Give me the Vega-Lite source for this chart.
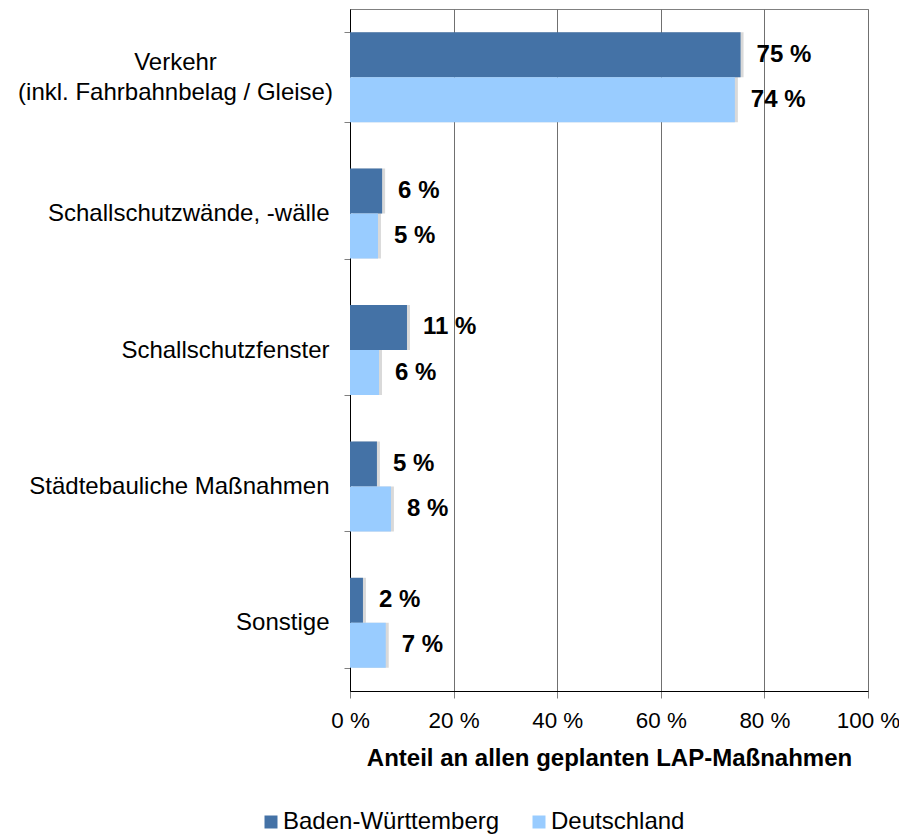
{
  "$schema": "https://vega.github.io/schema/vega-lite/v6.json",
  "width": 518,
  "height": 682,
  "autosize": "none",
  "padding": {"left": 350, "top": 9, "right": 31, "bottom": 144},
  "background": "white",
  "config": {
    "font": "Liberation Sans",
    "view": {"stroke": "#808080", "strokeWidth": 1}
  },
  "data": {
    "values": [
      {"kategorie": "Verkehr\n(inkl. Fahrbahnbelag / Gleise)", "gebiet": "Baden-Württemberg", "anteil": 75.4, "label": "75 %"},
      {"kategorie": "Verkehr\n(inkl. Fahrbahnbelag / Gleise)", "gebiet": "Deutschland", "anteil": 74.3, "label": "74 %"},
      {"kategorie": "Schallschutzwände, -wälle", "gebiet": "Baden-Württemberg", "anteil": 6.2, "label": "6 %"},
      {"kategorie": "Schallschutzwände, -wälle", "gebiet": "Deutschland", "anteil": 5.4, "label": "5 %"},
      {"kategorie": "Schallschutzfenster", "gebiet": "Baden-Württemberg", "anteil": 11.0, "label": "11 %"},
      {"kategorie": "Schallschutzfenster", "gebiet": "Deutschland", "anteil": 5.6, "label": "6 %"},
      {"kategorie": "Städtebauliche Maßnahmen", "gebiet": "Baden-Württemberg", "anteil": 5.2, "label": "5 %"},
      {"kategorie": "Städtebauliche Maßnahmen", "gebiet": "Deutschland", "anteil": 7.9, "label": "8 %"},
      {"kategorie": "Sonstige", "gebiet": "Baden-Württemberg", "anteil": 2.5, "label": "2 %"},
      {"kategorie": "Sonstige", "gebiet": "Deutschland", "anteil": 6.9, "label": "7 %"}
    ]
  },
  "encoding": {
    "y": {
      "field": "kategorie",
      "type": "nominal",
      "sort": null,
      "scale": {"paddingInner": 0.34, "paddingOuter": 0.17},
      "axis": {
        "title": null,
        "domain": true,
        "domainColor": "#000000",
        "grid": false,
        "tickBand": "extent",
        "tickSize": 6,
        "tickColor": "#808080",
        "labelExpr": "split(datum.label, '\\n')",
        "labelFontSize": 24,
        "labelColor": "#000000",
        "labelLineHeight": 30,
        "labelLimit": 400,
        "labelAlign": {"condition": {"test": "indexof(datum.label, 'Verkehr') == 0", "value": "center"}, "value": "right"},
        "labelPadding": {"condition": {"test": "indexof(datum.label, 'Verkehr') == 0", "value": 169}, "value": 15},
        "labelOffset": {"condition": {"test": "indexof(datum.label, 'Verkehr') == 0", "value": -15}, "value": 0}
      }
    },
    "yOffset": {"field": "gebiet", "type": "nominal", "sort": ["Baden-Württemberg", "Deutschland"]},
    "x": {
      "field": "anteil",
      "type": "quantitative",
      "scale": {"domain": [0, 100], "nice": false},
      "axis": {
        "title": "Anteil an allen geplanten LAP-Maßnahmen",
        "titleFontSize": 24,
        "titleFontWeight": "bold",
        "titleColor": "#000000",
        "titlePadding": 15,
        "values": [0, 20, 40, 60, 80, 100],
        "labelExpr": "datum.value + ' %'",
        "labelFontSize": 22.4,
        "labelColor": "#000000",
        "labelPadding": 11,
        "labelFlush": false,
        "tickSize": 7,
        "tickColor": "#808080",
        "domainColor": "#000000",
        "grid": true,
        "gridColor": "#707070",
        "gridWidth": 1
      }
    }
  },
  "layer": [
    {
      "mark": {"type": "bar", "color": "#000000", "opacity": 0.15, "xOffset": 3},
      "encoding": {}
    },
    {
      "mark": {"type": "bar"},
      "encoding": {
        "color": {
          "field": "gebiet",
          "type": "nominal",
          "scale": {"domain": ["Baden-Württemberg", "Deutschland"], "range": ["#4472A6", "#99CCFF"]},
          "legend": {
            "title": null,
            "orient": "none",
            "direction": "horizontal",
            "legendX": -91,
            "legendY": 801,
            "symbolType": "square",
            "symbolSize": 169,
            "symbolStrokeWidth": 0,
            "labelFontSize": 24,
            "labelColor": "#000000",
            "labelOffset": 0,
            "labelLimit": 400,
            "columnPadding": 27
          }
        }
      }
    },
    {
      "mark": {"type": "text", "align": "left", "baseline": "middle", "dx": 16, "fontSize": 24, "fontWeight": "bold", "color": "#000000"},
      "encoding": {"text": {"field": "label"}}
    }
  ]
}
